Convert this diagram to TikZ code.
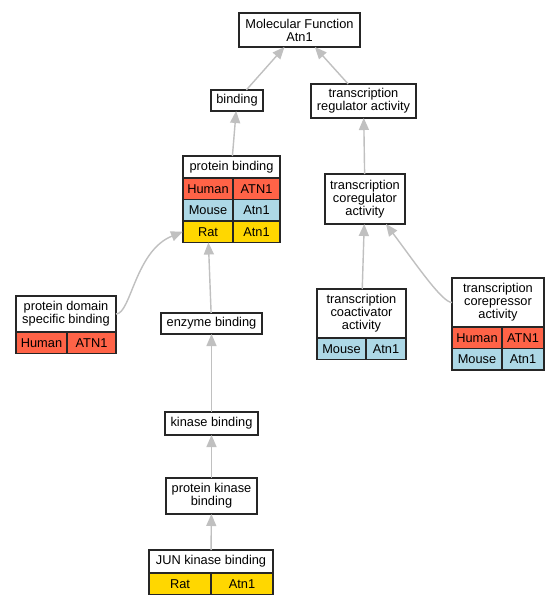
\documentclass[tikz,border=0pt]{standalone}
\usepackage{fontspec}
\setmainfont{Liberation Sans}
\usetikzlibrary{positioning, arrows.meta}
\definecolor{humancol}{HTML}{FF6347}
\definecolor{mousecol}{HTML}{ADD8E6}
\definecolor{ratcol}{HTML}{FFD700}
\definecolor{edgecol}{HTML}{C0C0C0}
\tikzset{
	term/.style={draw=black!85, line width=1.3pt, fill=white, align=center, inner sep=0pt, outer sep=0pt, font=\fontsize{12.8pt}{13pt}\selectfont},
	cell/.style={term, minimum height=21.5pt},
	humanrow/.style={cell, fill=humancol},
	mouserow/.style={cell, fill=mousecol},
	ratrow/.style={cell, fill=ratcol},
	isa/.style={draw=edgecol, line width=1.4pt, -{Triangle[length=12pt, width=10pt]}}
}

\begin{document}
\begin{tikzpicture}[x=1pt, y=1pt]
					\fill[white] (0,0) rectangle (559,-605);
					\useasboundingbox (0,0) rectangle (559,-605);
					\node[term, minimum width=121pt, minimum height=34pt] (mf) at (299.5,-30) {Molecular Function\\Atn1};
					\node[term, minimum width=52pt, minimum height=21pt] (bind) at (237,-100.5) {binding};
					\node[term, minimum width=105pt, minimum height=34pt] (treg) at (363.5,-101) {transcription\\regulator activity};
					\node[term, minimum width=97pt, minimum height=22pt] (pb) at (231.5,-167) {protein binding};
					\node[humanrow, minimum width=50pt, below right=0pt of pb.south west] (pbh) {Human};
					\node[humanrow, minimum width=47pt, right=0pt of pbh] (pbhg) {ATN1};
					\node[mouserow, minimum width=50pt, below=0pt of pbh] (pbm) {Mouse};
					\node[mouserow, minimum width=47pt, right=0pt of pbm] (pbmg) {Atn1};
					\node[ratrow, minimum width=50pt, below=0pt of pbm] (pbr) {Rat};
					\node[ratrow, minimum width=47pt, right=0pt of pbr] (pbrg) {Atn1};
					\node[term, minimum width=80pt, minimum height=50pt] (coreg) at (365,-199) {transcription\\coregulator\\activity};
					\node[term, minimum width=100pt, minimum height=36pt] (pdsb) at (66,-314) {protein domain\\specific binding};
					\node[humanrow, minimum width=51pt, below right=0pt of pdsb.south west] (pdsbh) {Human};
					\node[humanrow, minimum width=49pt, right=0pt of pdsbh] (pdsbhg) {ATN1};
					\node[term, minimum width=101pt, minimum height=21pt] (enz) at (211.5,-323.5) {enzyme binding};
					\node[term, minimum width=89pt, minimum height=49pt] (coact) at (361.5,-313.5) {transcription\\coactivator\\activity};
					\node[mouserow, minimum width=49pt, below right=0pt of coact.south west] (coactm) {Mouse};
					\node[mouserow, minimum width=40pt, right=0pt of coactm] (coactmg) {Atn1};
					\node[term, minimum width=92pt, minimum height=49pt] (corep) at (498,-302.5) {transcription\\corepressor\\activity};
					\node[humanrow, minimum width=50pt, below right=0pt of corep.south west] (coreph) {Human};
					\node[humanrow, minimum width=42pt, right=0pt of coreph] (corephg) {ATN1};
					\node[mouserow, minimum width=50pt, below=0pt of coreph] (corepm) {Mouse};
					\node[mouserow, minimum width=42pt, right=0pt of corepm] (corepmg) {Atn1};
					\node[term, minimum width=93pt, minimum height=23pt] (kin) at (211.5,-423.5) {kinase binding};
					\node[term, minimum width=91pt, minimum height=36pt] (pkb) at (211.5,-496) {protein kinase\\binding};
					\node[term, minimum width=124pt, minimum height=23pt] (jun) at (211,-561.5) {JUN kinase binding};
					\node[ratrow, minimum width=62pt, below right=0pt of jun.south west] (junr) {Rat};
					\node[ratrow, minimum width=62pt, right=0pt of junr] (junrg) {Atn1};
					\draw
					(bind) edge[isa] (mf)
					(treg) edge[isa] (mf)
					(pb) edge[isa] (bind)
					(coreg) edge[isa] (treg)
					(enz) edge[isa] (pbr)
					(coact) edge[isa] (coreg)
					(kin) edge[isa] (enz)
					(pkb) edge[isa] (kin)
					(jun) edge[isa] (pkb);
					\draw[isa] (pdsb.east) .. controls +(15,0) and +(-48,-19) .. (pbr.west);
					\draw[isa] (corep.west) .. controls +(-10,0) and +(30,-40) .. (coreg.-50);
				\end{tikzpicture}
\end{document}
